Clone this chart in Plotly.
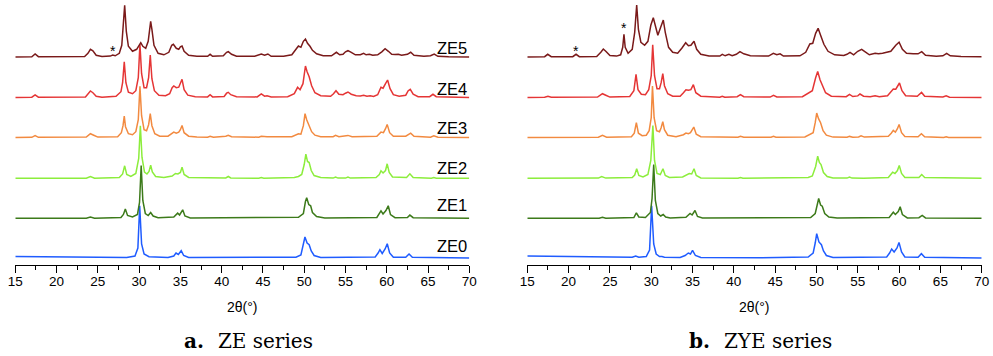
import plotly.graph_objects as go

# ---------------- data: keypoints (2θ in degrees, intensity above own baseline)
ZE0 = [(15, 1.6), (20, 1.2), (25, 0.7), (28.5, 0.5), (29.5, 2), (29.85, 10), (30.07, 52.3), (30.3, 14), (30.6, 4),
       (31.2, 1.3), (33.5, 0.6), (34.2, 2), (34.47, 5), (34.75, 3.5), (35.1, 7.3), (35.4, 2.5), (36.0, 0.5),
       (42.5, 0.4), (42.8, 1.0), (43.1, 0.4), (49.0, 0.8), (49.6, 3), (49.9, 13), (50.09, 21), (50.35, 15),
       (50.6, 13.3), (50.85, 7), (51.2, 2.5), (52.0, 0.5), (58.6, 1), (58.95, 5), (59.17, 8.3), (59.45, 4.5),
       (59.8, 9), (60.06, 14.3), (60.35, 5), (60.8, 0.8), (62.3, 0.8), (62.7, 4), (63.1, 0.8), (70, 0)]
ZE1 = [(15, 0.3), (23.6, 0.3), (24.1, 1.4), (24.6, 0.3), (27.8, 1), (28.1, 4), (28.33, 9.4), (28.6, 3), (29.2, 1.5),
       (29.8, 4), (30.05, 16), (30.25, 53), (30.45, 18), (30.75, 5), (31.1, 3), (31.4, 6), (31.7, 2.5), (32.3, 0.8),
       (34.2, 1.5), (34.67, 5.4), (34.9, 3.5), (35.28, 8.7), (35.55, 2.5), (36.2, 0.6), (49.3, 1.2), (49.9, 5),
       (50.15, 17), (50.3, 20.7), (50.55, 14), (50.78, 12.7), (51.0, 6), (51.5, 2), (52.5, 0.6), (58.8, 1),
       (59.3, 7.7), (59.55, 4.5), (59.9, 8), (60.18, 12.7), (60.45, 4), (61.0, 0.8), (62.5, 1), (62.8, 3.4),
       (63.2, 0.8), (70, 0.3)]
ZE2 = [(15, 0.3), (17.1, 0.3), (17.4, 1), (17.7, 0.3), (23.6, 0.3), (24.1, 2), (24.6, 0.3), (27.6, 1), (28.0, 4.5),
       (28.25, 12.7), (28.5, 4), (29.0, 2), (29.6, 5), (29.95, 20), (30.15, 52.7), (30.35, 21), (30.65, 6.5),
       (30.95, 4.5), (31.2, 7), (31.4, 13.4), (31.6, 6.5), (32.0, 2), (33.0, 1), (34.0, 2.5), (34.4, 5), (34.7, 4.5),
       (35.0, 6), (35.2, 11.4), (35.45, 4), (36.0, 1), (40.5, 0.5), (40.8, 2), (41.1, 0.5), (44.5, 0.3), (44.8, 1),
       (45.1, 0.3), (48.8, 1), (49.3, 2), (49.7, 4), (50.0, 14), (50.2, 24.4), (50.4, 17), (50.6, 16), (50.85, 8),
       (51.2, 3), (52.0, 1), (53.5, 0.4), (53.8, 1.5), (54.1, 0.4), (55.0, 0.4), (55.3, 1.5), (55.6, 0.4),
       (58.7, 1), (59.1, 4), (59.3, 7.7), (59.55, 5.5), (59.85, 8), (60.05, 14.7), (60.3, 6), (60.7, 1.5),
       (62.4, 1), (62.8, 4.7), (63.2, 1), (65.4, 0.3), (65.7, 1), (66.0, 0.3), (70, 0.3)]
ZE3 = [(15, 0.3), (17.0, 0.4), (17.4, 2), (17.8, 0.4), (23.6, 0.6), (24.1, 4), (24.5, 2.5), (25.0, 0.6), (27.4, 1),
       (27.85, 5), (28.05, 12), (28.2, 21.6), (28.35, 11), (28.7, 4), (29.2, 3), (29.6, 6), (29.9, 18), (30.1, 51.3),
       (30.3, 22), (30.6, 8), (30.9, 7), (31.15, 13), (31.35, 24), (31.55, 12), (31.9, 4), (32.5, 1.5), (33.5, 1.5),
       (33.9, 4), (34.2, 5.6), (34.5, 4.5), (34.8, 5.5), (35.0, 8), (35.2, 12.3), (35.45, 5), (36.0, 1.5),
       (37.0, 0.6), (38.3, 0.5), (38.6, 1.5), (39.0, 0.5), (40.5, 1.5), (40.8, 2.5), (41.2, 1), (44.5, 0.5),
       (44.8, 1.5), (45.5, 1), (48.5, 1), (49.0, 2.5), (49.3, 4), (49.6, 3.5), (49.9, 12), (50.1, 24), (50.3, 18),
       (50.6, 12), (50.9, 6), (51.3, 2.5), (52.0, 1), (53.5, 1), (53.8, 2.3), (54.2, 1), (55.0, 1.5), (55.3, 2.3),
       (55.8, 1), (57.2, 1.2), (58.8, 1.5), (59.3, 5.6), (59.6, 5), (59.85, 9), (60.05, 13.3), (60.35, 5),
       (60.8, 1.5), (62.3, 1.5), (62.9, 4.6), (63.3, 1.5), (65.3, 0.5), (65.7, 2), (66.2, 0.5), (70, 0.3)]
ZE4 = [(15, 0.3), (17.0, 0.5), (17.4, 2.7), (17.8, 0.5), (23.5, 0.8), (23.85, 4), (24.1, 6.7), (24.4, 5), (24.8, 1.5),
       (25.5, 0.5), (27.2, 1.5), (27.8, 6), (28.0, 15), (28.2, 36), (28.4, 15), (28.7, 5.5), (29.2, 4), (29.6, 7),
       (29.9, 20), (30.1, 53.4), (30.3, 24), (30.6, 10), (30.9, 10), (31.15, 20), (31.35, 42.7), (31.55, 19),
       (31.85, 7), (32.4, 2.5), (33.2, 2), (33.7, 4), (34.0, 10), (34.2, 11.7), (34.5, 10), (34.8, 10.5), (35.0, 14),
       (35.2, 18.4), (35.45, 8), (35.9, 2.5), (36.8, 1), (38.3, 0.8), (38.6, 3), (38.9, 0.8), (40.3, 1.2),
       (40.6, 4.5), (40.8, 5.4), (41.1, 3), (41.8, 1), (44.3, 0.8), (44.8, 3.7), (45.2, 1.5), (45.5, 2), (46.0, 0.7),
       (48.0, 1), (48.8, 4), (49.2, 10.4), (49.5, 8), (49.85, 14), (50.15, 31.7), (50.35, 26), (50.6, 21), (50.9, 12),
       (51.3, 5), (52.0, 2), (53.2, 1.5), (53.55, 4), (53.85, 7), (54.2, 3.5), (54.7, 3), (55.0, 4.5), (55.3, 5.7),
       (55.7, 3.5), (56.3, 2), (56.8, 1.8), (57.2, 2.5), (57.6, 1.5), (58.0, 2), (58.4, 1.2), (58.9, 3), (59.3, 10.4),
       (59.55, 9.5), (59.85, 14), (60.1, 17.7), (60.4, 9), (60.8, 3), (61.5, 1.5), (62.3, 2.5), (62.6, 7),
       (62.85, 8.4), (63.2, 3.5), (63.8, 1), (65.2, 1), (65.6, 3.4), (66.0, 1), (70, 0.3)]
ZE5 = [(15, 0.3), (17.0, 0.5), (17.4, 3.3), (17.8, 0.6), (23.4, 0.8), (23.8, 4), (24.1, 8), (24.4, 6.5), (24.8, 2),
       (25.5, 0.8), (26.5, 1.2), (26.8, 2.2), (27.1, 1.5), (27.6, 4), (27.9, 12), (28.05, 28), (28.25, 52),
       (28.45, 26), (28.7, 11), (29.2, 6), (29.7, 8), (30.0, 12), (30.2, 14.6), (30.45, 11), (30.8, 9), (31.1, 16),
       (31.25, 30), (31.4, 36), (31.55, 28), (31.8, 12), (32.3, 4), (33.0, 2.5), (33.6, 5), (33.95, 12), (34.15, 13),
       (34.5, 9), (34.8, 8), (35.0, 10.5), (35.2, 11.3), (35.45, 6), (36.0, 2), (37.0, 1), (38.3, 1), (38.6, 3),
       (38.9, 1), (40.2, 1.5), (40.6, 5), (40.8, 5.6), (41.2, 3), (41.8, 1), (44.0, 1), (44.8, 3.3), (45.2, 2),
       (45.6, 3.3), (46.0, 1), (47.5, 1), (48.5, 2.5), (49.0, 8), (49.3, 11.3), (49.6, 10), (49.9, 16), (50.15, 18.3),
       (50.4, 14), (50.7, 11), (51.0, 7), (51.5, 3.5), (52.3, 1.5), (53.3, 1.5), (53.6, 3), (53.9, 5), (54.3, 2.5),
       (54.7, 3), (55.0, 5.5), (55.3, 6.6), (55.7, 5), (56.2, 2.5), (56.8, 2.5), (57.2, 4), (57.5, 2.5), (57.9, 3),
       (58.3, 2), (58.9, 2.5), (59.4, 5.5), (59.8, 8.6), (60.2, 6), (60.6, 3), (61.0, 2.8), (61.4, 3), (61.8, 2),
       (62.5, 3), (62.9, 5), (63.3, 2), (64.5, 1), (65.3, 1.5), (65.75, 3.3), (66.2, 1), (67.5, 0.5), (70, 0.3)]

ZYE0 = [(15, 2), (20, 1.3), (25, 0.8), (27.7, 0.7), (28.12, 2), (28.5, 0.7), (29.4, 1.5), (29.8, 8), (30.05, 52.3),
        (30.3, 14), (30.6, 4), (31.0, 1.5), (31.3, 1.5), (31.6, 0.8), (33.5, 0.6), (34.1, 2.5), (34.49, 5),
        (34.75, 4), (35.0, 7.6), (35.35, 2.5), (36.0, 0.5), (42.5, 0.3), (42.8, 0.8), (43.1, 0.3), (49.0, 1),
        (49.6, 5), (49.85, 15), (50.03, 24.3), (50.3, 16), (50.6, 13.3), (50.85, 7), (51.2, 2.5), (52.0, 0.5),
        (58.5, 1), (58.85, 5), (59.1, 9), (59.4, 6), (59.75, 10), (59.99, 15.6), (60.3, 6), (60.7, 1), (62.3, 0.8),
        (62.7, 4.3), (63.1, 0.8), (70, 0)]
ZYE1 = [(15, 0.3), (23.7, 0.3), (24.1, 1.3), (24.5, 0.3), (27.9, 1), (28.2, 5.7), (28.5, 1.5), (29.3, 1), (29.9, 6),
        (30.1, 20), (30.3, 54), (30.5, 18), (30.8, 5), (31.15, 2.5), (31.45, 4), (31.75, 1.5), (32.3, 0.5),
        (34.2, 1.2), (34.7, 5), (34.95, 3.5), (35.3, 8), (35.6, 2), (36.2, 0.5), (49.3, 1), (49.85, 5), (50.1, 15),
        (50.27, 20), (50.5, 13.5), (50.7, 12.3), (51.0, 5), (51.5, 1.5), (52.5, 0.5), (58.8, 1), (59.3, 6.3),
        (59.55, 4), (59.9, 7), (60.13, 11.7), (60.4, 4), (61.0, 0.6), (62.4, 0.8), (62.8, 3), (63.2, 0.6), (70, 0.3)]
ZYE2 = [(15, 0.3), (23.6, 0.4), (24.0, 2), (24.5, 0.4), (27.7, 1), (28.0, 3.5), (28.24, 9.7), (28.5, 3), (29.0, 1.5),
        (29.6, 4), (29.95, 18), (30.2, 53), (30.4, 18), (30.7, 5), (31.1, 4), (31.42, 9.7), (31.7, 3), (32.2, 1),
        (33.8, 1.5), (34.3, 3.5), (34.6, 5), (34.9, 4.5), (35.18, 9.7), (35.45, 3), (36.0, 0.6), (40.5, 0.3),
        (40.8, 1), (41.1, 0.3), (49.0, 1), (49.5, 2.5), (49.9, 12), (50.15, 22.3), (50.35, 16), (50.55, 14),
        (50.85, 6), (51.3, 2), (52.0, 0.5), (53.7, 0.4), (54.0, 1.5), (54.3, 0.4), (55.1, 0.3), (55.4, 1),
        (55.7, 0.3), (58.7, 1), (59.0, 4), (59.22, 6.3), (59.5, 5), (59.8, 8), (60.02, 13), (60.3, 5), (60.7, 1),
        (62.4, 1), (62.74, 4), (63.1, 1), (70, 0.3)]
ZYE3 = [(15, 0.3), (17.2, 0.3), (17.5, 1), (17.8, 0.3), (23.6, 0.5), (24.1, 2.3), (24.6, 0.5), (27.6, 1), (27.95, 4.5),
        (28.2, 15), (28.45, 4.5), (28.9, 2), (29.4, 2.5), (29.75, 7), (30.0, 20), (30.15, 51.6), (30.35, 20),
        (30.65, 7), (31.0, 6), (31.2, 10), (31.4, 16), (31.6, 8), (32.0, 2.5), (33.0, 1), (33.9, 3), (34.2, 4.6),
        (34.5, 4), (34.75, 5), (35.15, 10.6), (35.45, 3.5), (36.0, 1), (40.5, 0.5), (40.8, 1.5), (41.2, 0.5),
        (44.5, 0.5), (44.8, 1.5), (45.1, 0.5), (48.6, 0.8), (49.0, 2.5), (49.3, 4), (49.6, 5), (49.85, 15),
        (50.03, 24.6), (50.25, 19), (50.5, 15), (50.8, 7), (51.2, 2.5), (52.0, 0.6), (53.7, 0.5), (54.0, 1.3),
        (54.4, 0.5), (55.1, 0.8), (55.4, 2), (55.8, 0.6), (58.7, 1.5), (59.05, 4.5), (59.3, 7.3), (59.55, 5.5),
        (59.8, 9), (60.0, 13.3), (60.3, 5), (60.7, 1.2), (62.3, 1), (62.7, 4), (63.1, 1), (65.4, 0.3), (65.7, 1),
        (66.0, 0.3), (70, 0.3)]
ZYE4 = [(15, 0.3), (17.1, 0.4), (17.5, 1.5), (17.9, 0.4), (23.5, 0.6), (23.85, 3), (24.1, 4), (24.5, 2.5), (25.0, 0.6),
        (27.4, 1.2), (27.9, 7), (28.16, 23.3), (28.4, 8), (28.8, 3.5), (29.3, 3), (29.7, 8), (30.0, 22), (30.18, 53),
        (30.4, 22), (30.7, 9), (31.0, 9), (31.2, 15), (31.4, 24), (31.6, 12), (32.0, 4), (32.6, 1.5), (33.5, 1.5),
        (33.9, 5), (34.2, 8), (34.5, 7.5), (34.8, 8), (35.1, 13), (35.4, 5), (36.0, 1.5), (38.3, 0.4), (38.6, 1.5),
        (38.9, 0.4), (40.4, 1), (40.8, 3), (41.2, 1), (44.4, 0.6), (44.8, 2.3), (45.2, 0.8), (48.3, 1), (48.9, 4),
        (49.13, 5.7), (49.5, 7), (49.9, 20), (50.15, 26.3), (50.43, 18), (50.7, 12), (51.1, 5), (51.8, 1.5),
        (53.6, 1), (54.0, 3.4), (54.4, 1.2), (55.0, 1.8), (55.27, 3.7), (55.7, 1.5), (56.5, 1), (57.1, 2), (57.6, 1),
        (58.6, 2), (59.0, 5.5), (59.3, 8.7), (59.6, 8.5), (59.9, 13), (60.05, 14.7), (60.35, 7), (60.8, 2),
        (62.2, 1.5), (62.72, 5.3), (63.1, 1.5), (65.3, 0.7), (65.7, 2), (66.1, 0.5), (70, 0.3)]
ZYE5 = [(15, 0.3), (17.1, 0.6), (17.47, 3), (17.9, 0.6), (20.5, 0.6), (20.9, 3), (21.3, 0.6), (23.4, 0.8), (23.9, 5),
        (24.2, 8.3), (24.5, 6), (25.0, 1.8), (25.8, 1.2), (26.3, 2.5), (26.55, 10), (26.7, 23), (26.85, 10),
        (27.2, 4), (27.7, 8), (28.0, 25), (28.24, 52.3), (28.45, 28), (28.75, 15), (29.2, 12), (29.6, 16),
        (29.95, 32), (30.25, 39.6), (30.5, 30), (30.8, 22), (31.1, 29), (31.46, 37.3), (31.7, 25), (32.1, 10),
        (32.6, 5), (33.2, 4), (33.7, 9), (34.05, 14), (34.17, 14.6), (34.5, 11.5), (34.8, 12), (35.18, 16),
        (35.5, 8), (36.0, 3), (37.0, 1.2), (38.3, 1.2), (38.6, 3), (38.95, 1.5), (39.4, 3), (39.8, 1.5), (40.3, 3),
        (40.74, 5.6), (41.2, 3.5), (42.0, 1.5), (44.2, 1.2), (44.78, 4), (45.2, 2.5), (45.6, 3.5), (46.0, 1.2),
        (48.0, 1.5), (48.7, 5), (49.2, 13.3), (49.55, 14), (49.9, 24), (50.2, 29), (50.5, 22), (50.9, 13),
        (51.4, 6), (52.2, 2.5), (53.3, 1.8), (53.7, 3), (54.06, 5), (54.5, 2.5), (55.0, 6), (55.47, 8), (55.9, 5.5),
        (56.4, 2.5), (57.1, 4), (57.5, 3.5), (58.0, 4), (58.4, 4.5), (59.0, 6), (59.6, 12), (60.0, 15), (60.4, 8),
        (60.9, 4), (61.7, 3.5), (62.3, 3.5), (62.74, 5.6), (63.2, 2), (64.5, 1), (65.3, 1.5), (65.76, 4), (66.2, 1.5),
        (67.5, 0.8), (70, 0.5)]

LEFT_NAMES = ["ZE0", "ZE1", "ZE2", "ZE3", "ZE4", "ZE5"]
RIGHT_NAMES = ["ZYE0", "ZYE1", "ZYE2", "ZYE3", "ZYE4", "ZYE5"]
LEFT_DATA = [ZE0, ZE1, ZE2, ZE3, ZE4, ZE5]
RIGHT_DATA = [ZYE0, ZYE1, ZYE2, ZYE3, ZYE4, ZYE5]
X_TICKS = [15, 20, 25, 30, 35, 40, 45, 50, 55, 60, 65, 70]
# star markers (2θ, height above ZE5 / ZYE5 baseline)
LEFT_STARS = [(26.8, 8.5)]
RIGHT_STARS = [(20.9, 8.0), (26.7, 31.0)]

# ---------------- styling / layout
OFFSETS = [7, 46.5, 86.5, 127.3, 167.3, 207.7]       # vertical stacking of patterns
LABEL_DY_L = [11.6, 13.5, 10.4, 9.6, 8.4, 9.6]
LABEL_DY_R = [11.6, 12.3, 12.3, 10.0, 10.7, 14.0]
COLORS = ["#1f5cff", "#3c7a1a", "#8ced3c", "#f28a40", "#e53535", "#7a1a1a"]
W, H = 993, 356
PLOT_H = 265
SANS = "Liberation Sans"
SERIF = "DejaVu Serif"


def py(ypix):
    return (PLOT_H - ypix) / PLOT_H


fig = go.Figure()
for names, data, xa, ya in [(LEFT_NAMES, LEFT_DATA, "x", "y"), (RIGHT_NAMES, RIGHT_DATA, "x2", "y2")]:
    for i, (name, pts) in enumerate(zip(names, data)):
        xs = [p[0] for p in pts]
        ys = [OFFSETS[i] + p[1] for p in pts]
        fig.add_trace(go.Scatter(x=xs, y=ys, mode="lines", name=name, xaxis=xa, yaxis=ya,
                                 line=dict(color=COLORS[i], width=1.5), showlegend=False,
                                 hoverinfo="skip"))

annotations = []
for names, dys, xr, yr, xend in [(LEFT_NAMES, LABEL_DY_L, "x", "y", 69.95), (RIGHT_NAMES, LABEL_DY_R, "x2", "y2", 70.2)]:
    for i, name in enumerate(names):
        annotations.append(dict(x=xend, y=OFFSETS[i] + dys[i], xref=xr, yref=yr, text=name, showarrow=False,
                                xanchor="right", yanchor="middle", font=dict(family=SANS, size=16.5, color="black")))
for stars, xr, yr in [(LEFT_STARS, "x", "y"), (RIGHT_STARS, "x2", "y2")]:
    for sx, sy in stars:
        annotations.append(dict(x=sx, y=OFFSETS[5] + sy - 2, xref=xr, yref=yr, text="*", showarrow=False,
                                xanchor="center", yanchor="middle", font=dict(family=SANS, size=14, color="black")))

for cx in (242.5 / W, 754.5 / W):
    annotations.append(dict(x=cx, y=py(307), xref="paper", yref="paper", text="2θ(°)", showarrow=False,
                            xanchor="center", yanchor="middle", font=dict(family=SANS, size=14, color="black")))
for cx, txt in ((248 / W, "<b>a.</b>\u2002\u2009ZE series"), (760 / W, "<b>b.</b>\u2002\u2009ZYE series")):
    annotations.append(dict(x=cx, y=py(340.5), xref="paper", yref="paper", text=txt, showarrow=False,
                            xanchor="center", yanchor="middle", font=dict(family=SERIF, size=20, color="black")))

xaxis_common = dict(range=[15, 70], tickmode="array", tickvals=X_TICKS, ticks="outside", ticklen=7, tickwidth=1,
                    tickcolor="black", showline=True, linecolor="black", linewidth=1, showgrid=False,
                    zeroline=False, automargin=False, ticklabelstandoff=-3,
                    tickfont=dict(family=SANS, size=13.5, color="black"),
                    minor=dict(dtick=2.5, tick0=15, ticks="outside", ticklen=4, tickwidth=1, tickcolor="black",
                               showgrid=False))
yaxis_common = dict(range=[0, PLOT_H], visible=False, showgrid=False, zeroline=False, automargin=False)

fig.update_layout(
    width=W, height=H, margin=dict(l=0, r=0, t=0, b=H - PLOT_H, autoexpand=False),
    paper_bgcolor="white", plot_bgcolor="white",
    xaxis=dict(domain=[15.3 / W, 469.3 / W], anchor="y", **xaxis_common),
    yaxis=dict(domain=[0, 1], anchor="x", **yaxis_common),
    xaxis2=dict(domain=[527.3 / W, 981.7 / W], anchor="y2", **xaxis_common),
    yaxis2=dict(domain=[0, 1], anchor="x2", **yaxis_common),
    annotations=annotations,
)

fig.write_html("out.html")
